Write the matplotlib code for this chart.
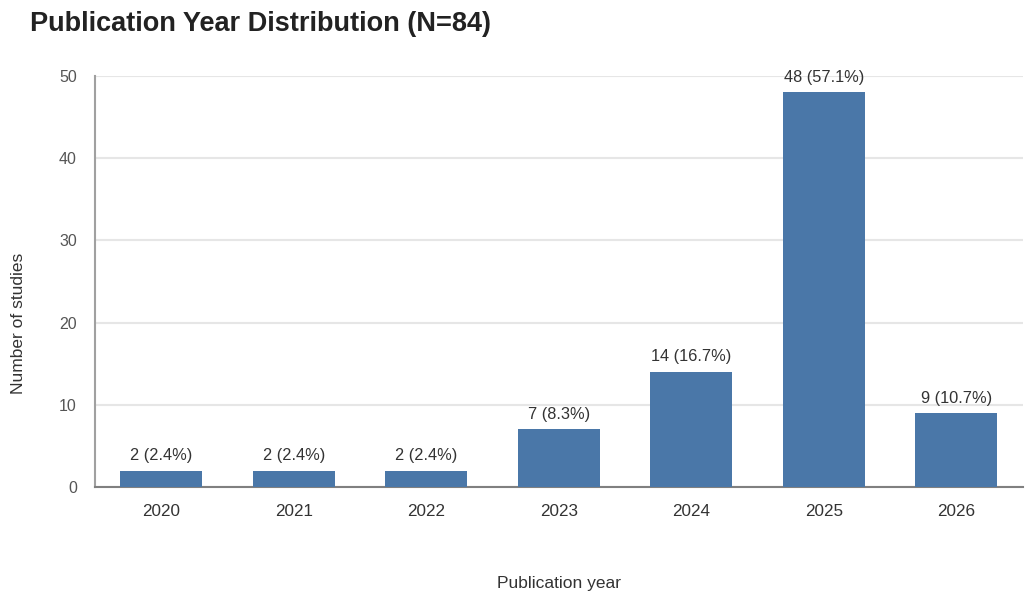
import matplotlib
matplotlib.use('Agg')
import matplotlib.pyplot as plt

# Data
years = ['2020', '2021', '2022', '2023', '2024', '2025', '2026']
counts = [2, 2, 2, 7, 14, 48, 9]
total = 84
yticks = [0, 10, 20, 30, 40, 50]

plt.rcParams['font.family'] = ['Liberation Sans', 'DejaVu Sans']

fig = plt.figure(figsize=(10.33, 6.02), dpi=100)
ax = fig.add_axes([0.092, 0.191, 0.898, 0.683])

x = range(len(years))
ax.bar(x, counts, width=0.62, color='#4a77a8', zorder=3)

for i, c in zip(x, counts):
    pct = c / total * 100
    ax.text(i, c + 0.9, f'{c} ({pct:.1f}%)', ha='center', va='bottom',
            fontsize=11.8, color='#333333', zorder=4)

ax.set_xlim(-0.5, len(years) - 0.5)
ax.set_ylim(0, 50)
ax.set_yticks(yticks)
ax.set_xticks(list(x))
ax.set_xticklabels(years)
ax.grid(axis='y', color='#e6e6e6', linewidth=1.5, zorder=0)
ax.set_axisbelow(True)

for s in ['top', 'right']:
    ax.spines[s].set_visible(False)
ax.spines['left'].set_color('#a0a0a0')
ax.spines['left'].set_linewidth(1.5)
ax.spines['bottom'].set_color('#808080')
ax.spines['bottom'].set_linewidth(1.5)

ax.tick_params(axis='y', length=0, pad=13, labelsize=11.5, labelcolor='#555555')
ax.tick_params(axis='x', length=0, pad=12, labelsize=12.3, labelcolor='#333333')

ax.set_xlabel('Publication year', fontsize=12.5, color='#333333', labelpad=41)
ax.set_ylabel('Number of studies', fontsize=12.5, color='#333333')
# label sits a bit below the axis centre in the reference
ax.yaxis.set_label_coords(-0.074, 0.397)

fig.text(0.029, 0.96, 'Publication Year Distribution (N=84)', fontsize=19.5,
         fontweight='bold', color='#222222', ha='left', va='center')

fig.savefig('out.png', dpi=100)
